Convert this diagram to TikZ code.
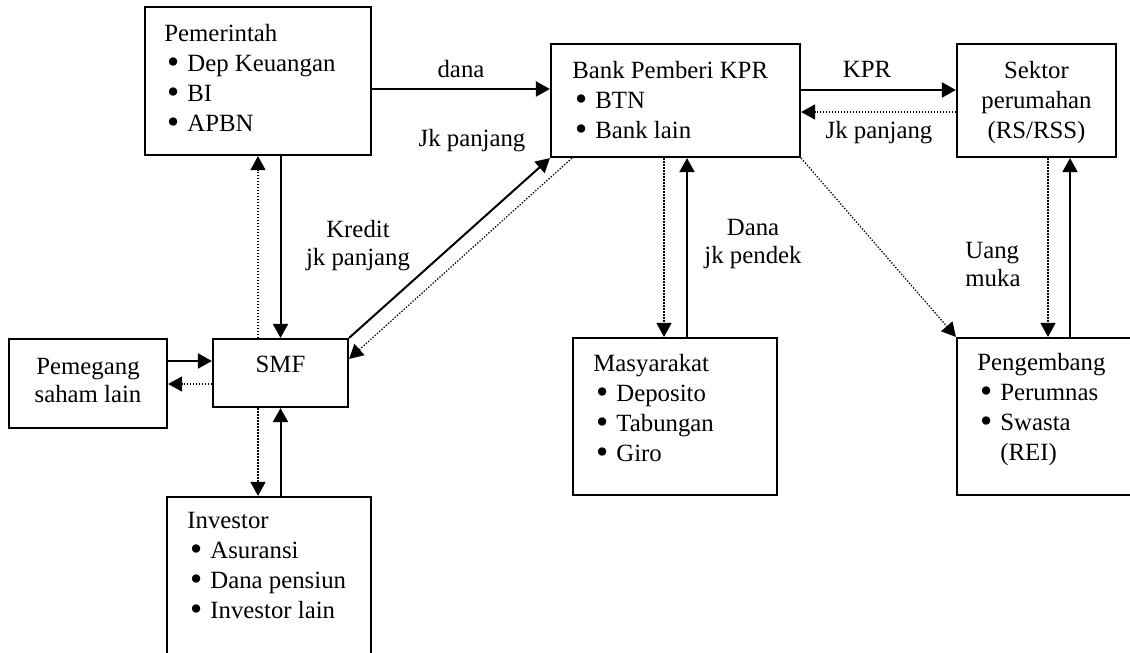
\documentclass[tikz,border=0pt]{standalone}
\usepackage{fontspec}
\setmainfont{Liberation Serif}
\usetikzlibrary{arrows.meta}
% bullet item with hanging indent
\newcommand\itm[1]{\makebox[11.5pt][l]{\hspace{1.3pt}\smash{\raisebox{-0.9pt}{\scalebox{1.4}{\textbullet}}}}#1}

\begin{document}
\begin{tikzpicture}[x=0.5pt,y=-0.5pt,
  box/.style={draw, line width=1.1pt, inner sep=0pt},
  txt/.style={inner sep=0pt, align=left, font=\fontsize{12.4}{15}\selectfont},
  ctxt/.style={inner sep=0pt, align=center, font=\fontsize{12.4}{15}\selectfont},
  lbl/.style={inner sep=0pt, font=\fontsize{12.4}{14}\selectfont},
  flow/.style={line width=1pt, -{Triangle[length=7pt,width=7.5pt]}},
  back/.style={line width=0.6pt, dash pattern=on 0.7pt off 0.8pt, -{Triangle[length=7pt,width=7.5pt]}},
]
\useasboundingbox (0,0) rectangle (1130,653);
\clip (0,0) rectangle (1130,653);

% boxes
\node[box, minimum width=113pt, minimum height=74pt]   (pem)  at (258,81) {};
\node[box, minimum width=124.5pt, minimum height=56.5pt] (bank) at (675.5,100.5) {};
\node[box, minimum width=79.5pt, minimum height=56.5pt]  (sek)  at (1036.5,100.5) {};
\node[box, minimum width=79pt, minimum height=44.5pt]  (peg)  at (88,383.5) {};
\node[box, minimum width=67.5pt, minimum height=34pt]  (smf)  at (280.5,373) {};
\node[box, minimum width=102pt, minimum height=78.5pt] (mas)  at (675,416.5) {};
\node[box, minimum width=94pt, minimum height=78.5pt]  (png)  at (1051,416.5) {};
\node[box, minimum width=102pt, minimum height=86.5pt] (inv)  at (269,583.5) {};

% box contents
\node[txt, anchor=north west] (pemtxt) at (164,20)
  {\strut Pemerintah\\\strut\itm{Dep Keuangan}\\\strut\itm{BI}\\\strut\itm{APBN}};
\node[txt, anchor=north west] (banktxt) at (572,57)
  {\strut Bank Pemberi KPR\\\strut\itm{BTN}\\\strut\itm{Bank lain}};
\node[ctxt, anchor=north] (sektxt) at (1036.5,57)
  {\strut Sektor\\\strut perumahan\\\strut (RS/RSS)};
\node[lbl, align=center, anchor=north] (pegtxt) at (88,354.4)
  {\strut Pemegang\\\strut saham lain};
\node[txt, anchor=base] (smftxt) at (280.5,372) {SMF};
\node[txt, anchor=north west] (mastxt) at (593,350)
  {\strut Masyarakat\\\strut\itm{Deposito}\\\strut\itm{Tabungan}\\\strut\itm{Giro}};
\node[txt, anchor=north west] (pngtxt) at (977,349)
  {\strut Pengembang\\\strut\itm{Perumnas}\\\strut\itm{Swasta}\\\strut\hspace*{11.5pt}(REI)};
\node[txt, anchor=north west] (invtxt) at (187,507)
  {\strut Investor\\\strut\itm{Asuransi}\\\strut\itm{Dana pensiun}\\\strut\itm{Investor lain}};

% connector labels
\node[lbl, anchor=base] (ldana) at (461,77) {dana};
\node[lbl, anchor=base] (ljk1)  at (472,146) {Jk panjang};
\node[lbl, anchor=base] (lkpr)  at (867,77) {KPR};
\node[lbl, anchor=base] (ljk2)  at (879,138) {Jk panjang};
\node[lbl, align=center, anchor=north] (lkredit) at (358,217.4) {\strut Kredit\\\strut jk panjang};
\node[lbl, align=center, anchor=north] (ldanapd) at (753,215.4) {\strut Dana\\\strut jk pendek};
\node[lbl, align=left, anchor=north west] (luang) at (965,238.4) {\strut Uang\\\strut muka};

% Pemerintah -- Bank
\draw[flow] ([yshift=-4pt]pem.east) -- ([yshift=-4pt]pem.east -| bank.west);
% Bank -- Sektor perumahan
\draw[flow] ([yshift=5.25pt]bank.east) -- ([yshift=5.25pt]bank.east -| sek.west);
\draw[back] ([yshift=-5.75pt]sek.west) -- ([yshift=-5.75pt]sek.west -| bank.east);
% Pemerintah -- SMF
\draw[flow] (pem.south -| smf.north) -- (smf.north);
\draw[back] (smf.north -| pem.south) -- (pem.south);
% Pemegang saham -- SMF
\draw[flow] ([yshift=11.25pt]peg.east) -- ([yshift=11.25pt]peg.east -| smf.west);
\draw[back] ([yshift=-0.25pt]peg.east -| smf.west) -- ([yshift=-0.25pt]peg.east);
% SMF -- Bank
\draw[flow] (smf.north east) -- (bank.south west);
\draw[back] ([xshift=11pt]bank.south west) -- ([yshift=-10.5pt]smf.north east);
% SMF -- Investor
\draw[back] ([xshift=-11.25pt]smf.south) -- ([xshift=-11.25pt]smf.south |- inv.north);
\draw[flow] (inv.north -| smf.south) -- (smf.south);
% Bank -- Masyarakat
\draw[back] ([xshift=-5.75pt]bank.south) -- ([xshift=-5.75pt]bank.south |- mas.north);
\draw[flow] ([xshift=5.75pt]bank.south |- mas.north) -- ([xshift=5.75pt]bank.south);
% Bank -- Pengembang
\draw[back] (bank.south east) -- (png.north west);
% Sektor perumahan -- Pengembang
\draw[back] ([xshift=5.75pt]sek.south) -- ([xshift=5.75pt]sek.south |- png.north);
\draw[flow] ([xshift=16.75pt]sek.south |- png.north) -- ([xshift=16.75pt]sek.south);
\end{tikzpicture}
\end{document}
